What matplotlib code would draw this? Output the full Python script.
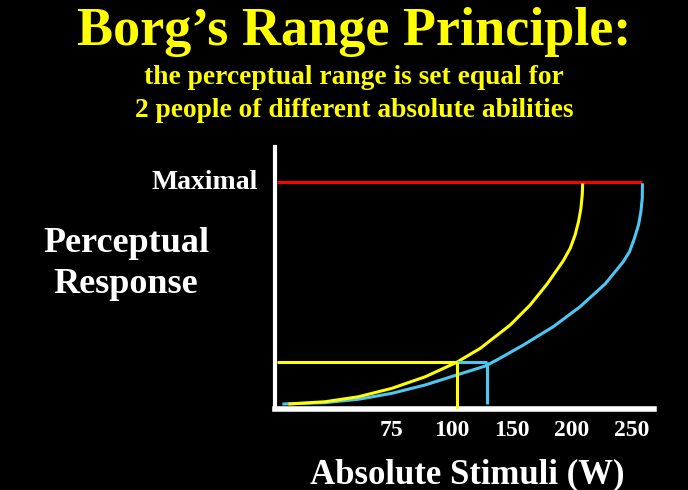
import numpy as np
import matplotlib
matplotlib.use("Agg")
from matplotlib import pyplot as plt

# tick labels (W) - drawn evenly spaced in the original slide
tick_w = [75, 100, 150, 200, 250]
tick_labels = ["75", "100", "150", "200", "250"]

# yellow person (lower ability) - stimulus W, perceptual response (0..1 = maximal)
yellow_w = [32.0, 47.3, 61.2, 75.1, 89.0, 104.3, 123.8, 148.8, 165.4, 179.6,
            192.9, 198.8, 202.9, 205.7, 207.7, 208.8, 209.2]
yellow_r = [0.022, 0.032, 0.054, 0.091, 0.142, 0.206, 0.267, 0.370, 0.458, 0.551,
            0.652, 0.708, 0.767, 0.825, 0.884, 0.943, 0.994]

# blue person (higher ability)
blue_w = [29.5, 47.3, 61.2, 75.1, 89.0, 104.3, 127.9, 137.7, 159.8, 184.8,
          207.1, 227.9, 242.9, 248.2, 252.3, 255.7, 257.7, 258.8, 259.0]
blue_r = [0.022, 0.028, 0.043, 0.069, 0.106, 0.150, 0.189, 0.216, 0.282, 0.363,
          0.451, 0.551, 0.648, 0.693, 0.752, 0.811, 0.869, 0.928, 0.994]

# same perceived level, different absolute load
level_r = 0.206
yellow_drop_w = 104.3
blue_drop_w = 129.3
maximal_r = 1.0

# piecewise scale so that the ticks are evenly spaced like on the slide
scale_w = [0, 75, 100, 150, 200, 250, 350]
scale_u = [-3, 0, 1, 2, 3, 4, 6]


def fwd(w):
    return np.interp(w, scale_w, scale_u)


def inv(u):
    return np.interp(u, scale_u, scale_w)


YELLOW = "#FFFF00"
BLUE = "#4CC6F2"
RED = "#FF0000"

plt.rcParams['font.family'] = ['Liberation Serif', 'DejaVu Serif']
plt.rcParams['font.weight'] = 'bold'

fig = plt.figure(figsize=(6.88, 4.90), dpi=100, facecolor="black")
ax = fig.add_axes([275 / 688, 81 / 490, 379 / 688, 262 / 490], facecolor="black")
ax.set_xscale("function", functions=(fwd, inv))
ax.set_xlim(26.4, 268.6)
ax.set_ylim(0, 1.154)

ax.plot(yellow_w, yellow_r, color=YELLOW, lw=2.2, solid_capstyle="butt",
        solid_joinstyle="round", zorder=4)
ax.plot(blue_w, blue_r, color=BLUE, lw=2.2, solid_capstyle="butt",
        solid_joinstyle="round", zorder=3)

x0 = ax.get_xlim()[0]
ax.hlines(maximal_r, x0 + 0.8, blue_w[-1], color=RED, lw=2.2, zorder=2)
ax.hlines(level_r, x0 + 0.8, yellow_drop_w, color=YELLOW, lw=2.2, zorder=5)
ax.vlines(yellow_drop_w, 0, level_r, color=YELLOW, lw=2.2, zorder=5)
ax.hlines(level_r, yellow_drop_w, blue_drop_w, color=BLUE, lw=2.2, zorder=4)
ax.vlines(blue_drop_w, blue_r[0], level_r, color=BLUE, lw=2.2, zorder=4)

for side in ["top", "right"]:
    ax.spines[side].set_visible(False)
ax.spines["left"].set_color("white")
ax.spines["left"].set_linewidth(3.0)
ax.spines["bottom"].set_color("white")
ax.spines["bottom"].set_linewidth(4.0)

ax.set_xticks(tick_w)
ax.set_xticklabels(tick_labels)
ax.xaxis.set_minor_locator(matplotlib.ticker.NullLocator())
ax.tick_params(axis="x", length=0, pad=8, labelsize=17, labelcolor="white")
ax.set_yticks([])

title_x = 354 / 688
fig.text(title_x, 1 - 45 / 490, "Borg\u2019s Range Principle:", color=YELLOW,
         fontsize=39, fontweight="bold", ha="center", va="baseline")
fig.text(title_x, 1 - 84 / 490, "the perceptual range is set equal for", color=YELLOW,
         fontsize=19.8, fontweight="bold", ha="center", va="baseline")
fig.text(title_x, 1 - 117 / 490, "2 people of different absolute abilities", color=YELLOW,
         fontsize=19.8, fontweight="bold", ha="center", va="baseline")

fig.text(258 / 688, 1 - 189 / 490, "Maximal", color="white", fontsize=20,
         fontweight="bold", ha="right", va="baseline")
fig.text(126 / 688, 1 - 252 / 490, "Perceptual", color="white",
         fontsize=26, fontweight="bold", ha="center", va="baseline")
fig.text(126 / 688, 1 - 293 / 490, "Response", color="white",
         fontsize=26, fontweight="bold", ha="center", va="baseline")
fig.text(467 / 688, 1 - 483 / 490, "Absolute Stimuli (W)", color="white",
         fontsize=25, fontweight="bold", ha="center", va="baseline")

fig.savefig("out.png", dpi=100, facecolor="black")
